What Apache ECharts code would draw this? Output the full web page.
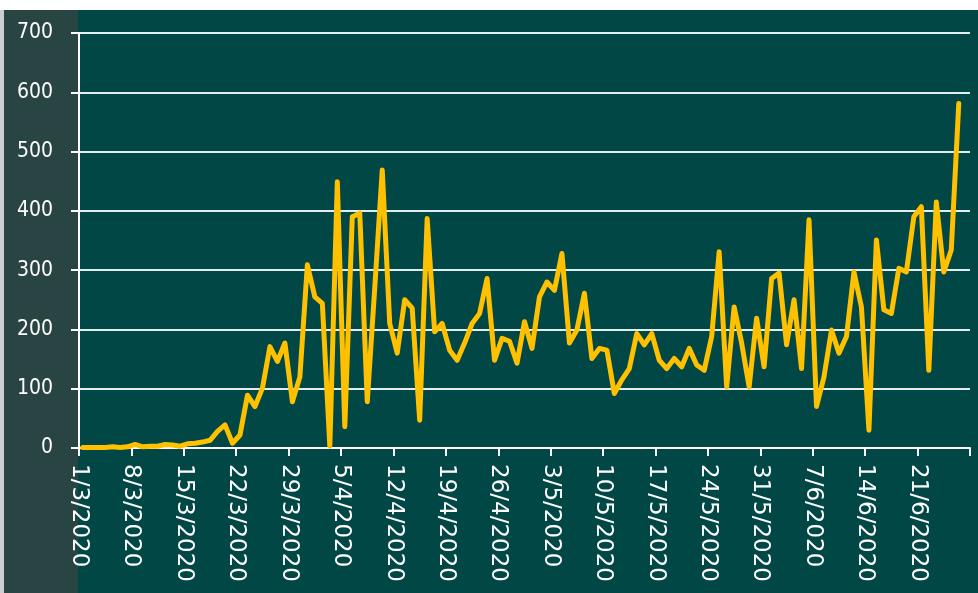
<!DOCTYPE html>
<html>
<head>
<meta charset="utf-8">
<script src="https://cdn.jsdelivr.net/npm/echarts@6/dist/echarts.min.js"></script>
<style>
html,body{margin:0;padding:0;background:#ffffff;}
#chart{width:978px;height:593px;}
</style>
</head>
<body>
<div id="chart"></div>
<script>
// Daily values, one per day starting 1/3/2020 (index 0 = 1/3/2020)
var dailyValues = [
  1, 1, 1, 1, 2, 1, 2, 6, 2, 3,
  3, 6, 5, 3, 7, 8, 10, 13, 28, 39,
  8, 22, 89, 70, 101, 171, 146, 177, 78, 120,
  309, 255, 244, 3, 449, 36, 390, 396, 78, 270,
  469, 210, 160, 250, 236, 47, 387, 196, 210, 165,
  148, 177, 210, 227, 286, 148, 185, 180, 143, 213,
  168, 255, 280, 266, 328, 177, 199, 261, 151, 168,
  165, 92, 115, 134, 193, 174, 193, 148, 134, 151,
  137, 168, 140, 131, 188, 331, 103, 238, 177, 103,
  219, 137, 286, 295, 174, 250, 134, 385, 70, 120,
  199, 160, 188, 297, 238, 30, 351, 233, 227, 303,
  297, 390, 407, 131, 415, 297, 334, 581
];
// Weekly tick labels (one every 7 days from 1/3/2020); last tick (28/6) unlabeled
var tickLabels = [
  '1/3/2020', '8/3/2020', '15/3/2020', '22/3/2020', '29/3/2020',
  '5/4/2020', '12/4/2020', '19/4/2020', '26/4/2020',
  '3/5/2020', '10/5/2020', '17/5/2020', '24/5/2020', '31/5/2020',
  '7/6/2020', '14/6/2020', '21/6/2020', ''
];
var yTicks = [0, 100, 200, 300, 400, 500, 600, 700];

var daysOnAxis = (tickLabels.length - 1) * 7;
var seriesData = dailyValues.map(function (v, i) { return [i + 0.5, v]; });

var chart = echarts.init(document.getElementById('chart'), null, {renderer: 'canvas'});
chart.setOption({
  backgroundColor: 'transparent',
  animation: false,
  graphic: [
    {type: 'rect', z: -10, shape: {x: 0, y: 10, width: 978, height: 583}, style: {fill: '#004746'}},
    {type: 'rect', z: -9, shape: {x: 4, y: 10, width: 74, height: 583}, style: {fill: '#284543'}},
    {type: 'rect', z: -9, shape: {x: 0, y: 10, width: 4, height: 583}, style: {fill: '#c9cfce'}}
  ],
  grid: {left: 79, right: 8, top: 33, bottom: 145, containLabel: false, outerBoundsMode: 'none'},
  xAxis: {
    type: 'value',
    min: 0,
    max: daysOnAxis,
    interval: 7,
    axisLine: {show: true, onZero: false, lineStyle: {color: '#ffffff', width: 2}},
    axisTick: {show: true, length: 8, lineStyle: {color: '#ffffff', width: 2}},
    splitLine: {show: false},
    axisLabel: {
      show: true,
      rotate: -90,
      margin: 16,
      color: '#ffffff',
      fontSize: 23,
      fontFamily: 'DejaVu Sans',
      showMinLabel: true,
      showMaxLabel: true,
      formatter: function (v) { return tickLabels[Math.round(v / 7)] || ''; }
    }
  },
  yAxis: {
    type: 'value',
    min: yTicks[0],
    max: yTicks[yTicks.length - 1],
    interval: 100,
    axisLine: {show: true, lineStyle: {color: '#ffffff', width: 2}},
    axisTick: {show: true, length: 8, lineStyle: {color: '#ffffff', width: 2}},
    splitLine: {show: true, lineStyle: {color: '#e4eded', width: 2}},
    axisLabel: {
      margin: 26,
      color: '#ffffff',
      fontSize: 21,
      fontFamily: 'DejaVu Sans Condensed, DejaVu Sans'
    }
  },
  series: [{
    type: 'line',
    data: seriesData,
    showSymbol: false,
    symbol: 'none',
    lineStyle: {color: '#FFC000', width: 5, join: 'round', cap: 'round'},
    z: 5
  }]
});
</script>
</body>
</html>
